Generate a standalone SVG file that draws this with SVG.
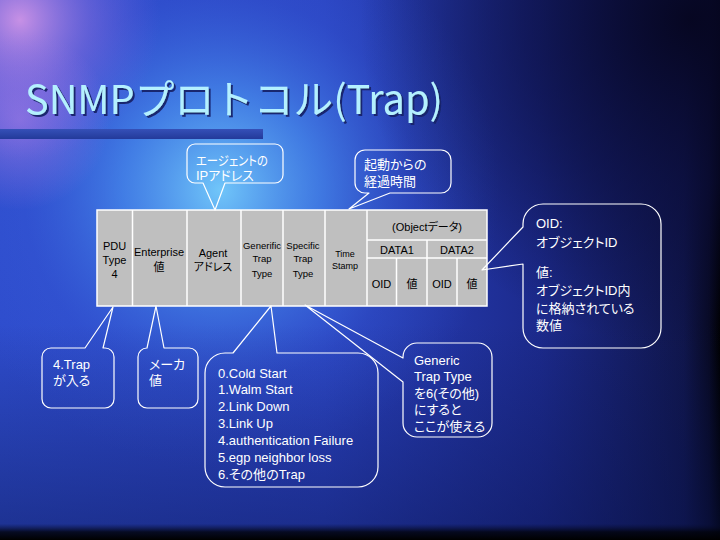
<svg xmlns="http://www.w3.org/2000/svg" width="720" height="540" viewBox="0 0 720 540">
<defs>
<linearGradient id="bgBase" x1="0" y1="0" x2="1" y2="0">
<stop offset="0" stop-color="#2e4ccc"/>
<stop offset="0.45" stop-color="#2a42c0"/>
<stop offset="0.75" stop-color="#1c2a8c"/>
<stop offset="0.95" stop-color="#10164c"/>
<stop offset="0.985" stop-color="#080a24"/>
<stop offset="1" stop-color="#000000"/>
</linearGradient>
<radialGradient id="glowCyan" cx="220" cy="190" r="280" gradientUnits="userSpaceOnUse">
<stop offset="0" stop-color="#78d4ff" stop-opacity="0.9"/>
<stop offset="0.35" stop-color="#4c98f4" stop-opacity="0.65"/>
<stop offset="0.7" stop-color="#3a64e0" stop-opacity="0.25"/>
<stop offset="1" stop-color="#3a64e0" stop-opacity="0"/>
</radialGradient>
<radialGradient id="glowPink" cx="20" cy="20" r="140" gradientUnits="userSpaceOnUse">
<stop offset="0" stop-color="#d898e8" stop-opacity="0.9"/>
<stop offset="0.5" stop-color="#9070e0" stop-opacity="0.5"/>
<stop offset="1" stop-color="#7060e0" stop-opacity="0"/>
</radialGradient>
<radialGradient id="glowPurple" cx="20" cy="120" r="90" gradientUnits="userSpaceOnUse">
<stop offset="0" stop-color="#b080e8" stop-opacity="0.6"/>
<stop offset="1" stop-color="#b080e8" stop-opacity="0"/>
</radialGradient>
<radialGradient id="darkTR" cx="690" cy="20" r="330" gradientUnits="userSpaceOnUse">
<stop offset="0" stop-color="#060620" stop-opacity="0.95"/>
<stop offset="0.5" stop-color="#0a0c38" stop-opacity="0.6"/>
<stop offset="1" stop-color="#0a0c38" stop-opacity="0"/>
</radialGradient>
<linearGradient id="bgBottom" x1="0" y1="0" x2="0" y2="540" gradientUnits="userSpaceOnUse">
<stop offset="0" stop-color="#0a1450" stop-opacity="0"/>
<stop offset="0.6" stop-color="#0a1450" stop-opacity="0"/>
<stop offset="0.97" stop-color="#0a1450" stop-opacity="0.45"/>
<stop offset="0.985" stop-color="#020410" stop-opacity="0.9"/>
<stop offset="1" stop-color="#000000" stop-opacity="1"/>
</linearGradient>
<linearGradient id="barGrad" x1="0" y1="0" x2="0" y2="1">
<stop offset="0" stop-color="#3550b8"/>
<stop offset="1" stop-color="#233a9a"/>
</linearGradient>
<filter id="titleShadow" x="-5%" y="-20%" width="110%" height="150%">
<feDropShadow dx="2" dy="2" stdDeviation="0.6" flood-color="#16206a" flood-opacity="0.95"/>
</filter>
<style>
.callout{fill:none;stroke:#ffffff;stroke-width:1.2;stroke-linejoin:round}
.ct{font-family:"Liberation Sans","Noto Sans CJK JP",sans-serif;font-size:13px;fill:#ffffff;font-feature-settings:"palt" 1}
.tb{font-family:"Liberation Sans","Noto Sans CJK JP",sans-serif;font-size:11px;fill:#000000;text-anchor:middle;font-feature-settings:"palt" 1}
.tbs{font-size:9.5px}
.tbx{font-size:9px}
.cell{fill:#bfbfbf;stroke:#ffffff;stroke-width:1.5}
.grid{stroke:#ffffff;stroke-width:1.5;fill:none}
</style>
</defs>

<g id="background">
<rect x="0" y="0" width="720" height="540" fill="url(#bgBase)"/>
<rect x="0" y="0" width="720" height="540" fill="url(#glowCyan)"/>
<rect x="0" y="0" width="720" height="540" fill="url(#glowPink)"/>
<rect x="0" y="0" width="720" height="540" fill="url(#glowPurple)"/>
<rect x="0" y="0" width="720" height="540" fill="url(#darkTR)"/>
<rect x="0" y="0" width="720" height="540" fill="url(#bgBottom)"/>
</g>

<g id="title">
<text x="25" y="114" font-family="'Noto Sans CJK JP','Liberation Sans',sans-serif" font-size="40" fill="#b4f0ff" textLength="418" lengthAdjust="spacingAndGlyphs" filter="url(#titleShadow)">SNMPプロトコル(Trap)</text>
<rect x="0" y="129" width="263" height="10" fill="url(#barGrad)"/>
</g>

<g id="pdu-table">
<rect class="cell" x="97" y="210" width="390" height="96"/>
<path class="grid" d="M132.5,210V306M187,210V306M241,210V306M283,210V306M325,210V306M367,210V306M367,240H487M367,258H487M427,240V306M396.5,258V306M457,258V306"/>
<text class="tb" x="114.5" y="250">PDU</text>
<text class="tb" x="114.5" y="264">Type</text>
<text class="tb" x="114.5" y="278">4</text>
<text class="tb" x="159" y="256">Enterprise</text>
<text class="tb" x="159" y="271">値</text>
<text class="tb" x="213" y="257">Agent</text>
<text class="tb" x="213" y="271">アドレス</text>
<text class="tb tbs" x="262" y="249">Generific</text>
<text class="tb tbs" x="262" y="262">Trap</text>
<text class="tb tbs" x="262" y="277">Type</text>
<text class="tb tbs" x="303" y="249">Specific</text>
<text class="tb tbs" x="303" y="262">Trap</text>
<text class="tb tbs" x="303" y="277">Type</text>
<text class="tb tbx" x="345" y="257">Time</text>
<text class="tb tbx" x="345" y="269">Stamp</text>
<text class="tb" x="427" y="231">(Objectデータ)</text>
<text class="tb" x="397" y="254">DATA1</text>
<text class="tb" x="457" y="254">DATA2</text>
<text class="tb" x="381.5" y="288">OID</text>
<text class="tb" x="412" y="288">値</text>
<text class="tb" x="442" y="288">OID</text>
<text class="tb" x="472" y="288">値</text>
</g>

<g id="callout-agent">
<path class="callout" d="M195,144H275A8,8 0 0 1 283,152V175A8,8 0 0 1 275,183H225L215,210L203,183H195A8,8 0 0 1 187,175V152A8,8 0 0 1 195,144Z"/>
<text class="ct" x="196" y="165" textLength="72" lengthAdjust="spacingAndGlyphs">エージェントの</text>
<text class="ct" x="196" y="180">IPアドレス</text>
</g>

<g id="callout-time">
<path class="callout" d="M365,150H441A10,10 0 0 1 451,160V183A10,10 0 0 1 441,193H390L349,209L369,193H365A10,10 0 0 1 355,183V160A10,10 0 0 1 365,150Z"/>
<text class="ct" x="364" y="169" font-size="14">起動からの</text>
<text class="ct" x="364" y="186" font-size="14">経過時間</text>
</g>

<g id="callout-oid">
<path class="callout" d="M543,204H641A20,20 0 0 1 661,224V328A20,20 0 0 1 641,348H543A20,20 0 0 1 523,328V264L482,270L523,227V224A20,20 0 0 1 543,204Z"/>
<text class="ct" x="536" y="228">OID:</text>
<text class="ct" x="536" y="246.5">オブジェクトID</text>
<text class="ct" x="536" y="276.5">値:</text>
<text class="ct" x="536" y="295">オブジェクトID内</text>
<text class="ct" x="536" y="313">に格納されている</text>
<text class="ct" x="536" y="330">数値</text>
</g>

<g id="callout-pdutype">
<path class="callout" d="M51,348H85L113,307L103,348H105A9,9 0 0 1 114,357V399A9,9 0 0 1 105,408H51A9,9 0 0 1 42,399V357A9,9 0 0 1 51,348Z"/>
<text class="ct" x="53" y="368.5">4.Trap</text>
<text class="ct" x="53" y="384.5">が入る</text>
</g>

<g id="callout-enterprise">
<path class="callout" d="M147,348L156,306L164,348H189A9,9 0 0 1 198,357V399A9,9 0 0 1 189,408H147A9,9 0 0 1 138,399V357A9,9 0 0 1 147,348Z"/>
<text class="ct" x="149" y="368.5">メーカ</text>
<text class="ct" x="149" y="384.5">値</text>
</g>

<g id="callout-generic-list">
<path class="callout" d="M225,353H233L271,306L277,353H358A20,20 0 0 1 378,373V467A20,20 0 0 1 358,487H225A20,20 0 0 1 205,467V373A20,20 0 0 1 225,353Z"/>
<text class="ct" x="218" y="377.5">0.Cold Start</text>
<text class="ct" x="218" y="394.4">1.Walm Start</text>
<text class="ct" x="218" y="411.3">2.Link Down</text>
<text class="ct" x="218" y="428.2">3.Link Up</text>
<text class="ct" x="218" y="445.1">4.authentication Failure</text>
<text class="ct" x="218" y="462">5.egp neighbor loss</text>
<text class="ct" x="218" y="478.9">6.その他のTrap</text>
</g>

<g id="callout-specific">
<path class="callout" d="M417,343H478A14,14 0 0 1 492,357V423A14,14 0 0 1 478,437H417A14,14 0 0 1 403,423V382L305,305L403,358V357A14,14 0 0 1 417,343Z"/>
<text class="ct" x="414" y="364.5">Generic</text>
<text class="ct" x="414" y="381">Trap Type</text>
<text class="ct" x="414" y="397.5">を6(その他)</text>
<text class="ct" x="414" y="414">にすると</text>
<text class="ct" x="414" y="431">ここが使える</text>
</g>
</svg>
